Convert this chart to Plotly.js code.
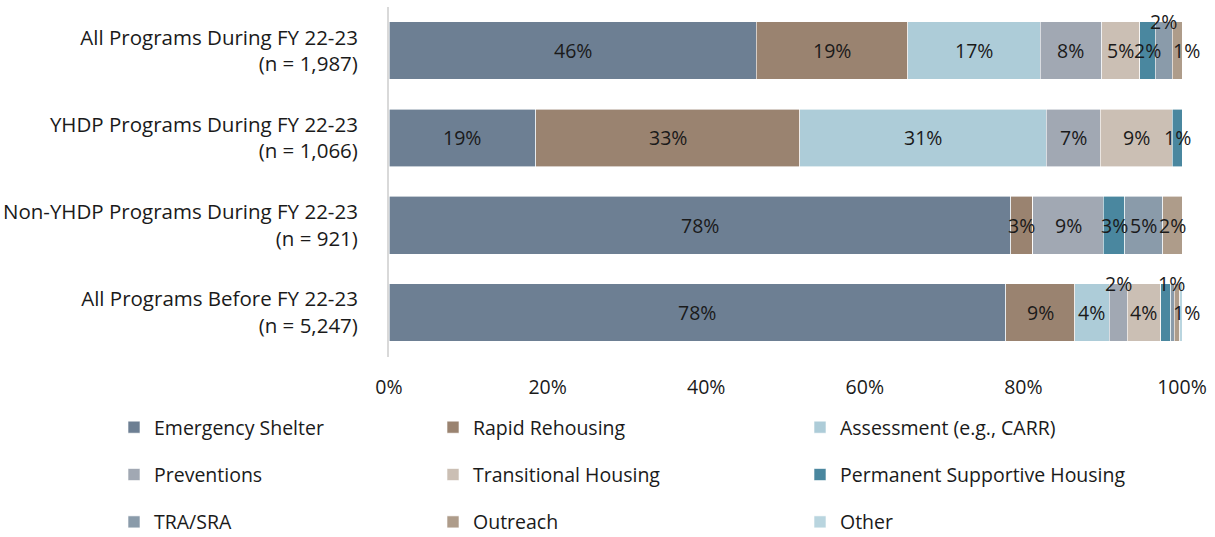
<!DOCTYPE html>
<html>
<head>
<meta charset="utf-8">
<script src="https://cdn.plot.ly/plotly-3.0.1.min.js"></script>
<style>html,body{margin:0;padding:0;background:#fff;}#chart{width:1215px;height:537px;}</style>
</head>
<body>
<div id="chart"></div>
<script>
// ---- data ----
const categories = [
  "All Programs During FY 22-23<br>(n = 1,987)",
  "YHDP Programs During FY 22-23<br>(n = 1,066)",
  "Non-YHDP Programs During FY 22-23<br>(n = 921)",
  "All Programs Before FY 22-23<br>(n = 5,247)"
];
const seriesNames = ["Emergency Shelter","Rapid Rehousing","Assessment (e.g., CARR)","Preventions","Transitional Housing","Permanent Supportive Housing","TRA/SRA","Outreach","Other"];
const emergencyShelter   = [46.3, 18.5, 78.4, 77.8];
const rapidRehousing     = [19.1, 33.3, 2.8, 8.7];
const assessment         = [16.7, 31.1, 0, 4.3];
const preventions        = [7.8, 6.8, 8.9, 2.3];
const transitionalHousing= [4.8, 9.1, 0, 4.2];
const permSupportive     = [1.9, 1.2, 2.7, 1.3];
const traSra             = [2.2, 0, 4.8, 0.4];
const outreach           = [1.2, 0, 2.4, 0.7];
const other              = [0, 0, 0, 0.3];
const seriesValues = [emergencyShelter, rapidRehousing, assessment, preventions, transitionalHousing, permSupportive, traSra, outreach, other];

// ---- styles ----
const colors = ["#6D7F93","#9A8370","#ADCCD8","#A1A8B3","#CBBFB4","#4A879F","#8A9BAA","#AE9C8A","#B9D5DF"];
const FONT = "'Open Sans', 'Noto Sans', sans-serif";
const FS = 19.5;
const YFS = 20.5;
// manual label nudges (pixels) : key = seriesIndex + '-' + categoryIndex
const labelShift = {
  "6-0": {dx: 0, dy: 29},
  "7-0": {dx: 9, dy: 0},
  "3-3": {dx: 0, dy: 29},
  "5-3": {dx: 6, dy: 29},
  "7-3": {dx: 10, dy: 0}
};

const traces = seriesNames.map((name, i) => ({
  type: "bar",
  orientation: "h",
  name: name,
  y: categories,
  x: seriesValues[i].map(v => v / 100),
  marker: {color: colors[i], line: {color: "#ffffff", width: 0.6}},
  legend: ["legend","legend2","legend3"][i % 3],
  legendgroup: "g" + i,
  hoverinfo: "name+x"
}));

const annotations = [];
categories.forEach((cat, c) => {
  let cum = 0;
  seriesValues.forEach((vals, s) => {
    const v = vals[c];
    const r = Math.round(v);
    if (r >= 1) {
      const sh = labelShift[s + "-" + c] || {dx: 0, dy: 0};
      annotations.push({
        x: (cum + v / 2) / 100, y: cat, xref: "x", yref: "y",
        text: r + "%", showarrow: false,
        xshift: sh.dx, yshift: sh.dy,
        font: {family: FONT, size: FS, color: "#1a1a1a"}
      });
    }
    cum += v;
  });
});

const legendBase = {
  orientation: "v", xref: "container", yref: "container",
  yanchor: "top", xanchor: "left", bgcolor: "rgba(0,0,0,0)",
  font: {family: FONT, size: FS, color: "#1a1a1a"},
  tracegroupgap: 19, traceorder: "grouped", itemclick: false
};

const layout = {
  width: 1215, height: 537,
  margin: {l: 389, r: 33, t: 7, b: 180, autoexpand: false},
  barmode: "stack",
  bargap: 0.34,
  paper_bgcolor: "#ffffff", plot_bgcolor: "#ffffff",
  font: {family: FONT, size: FS, color: "#1a1a1a"},
  xaxis: {
    range: [0, 1], tickformat: ".0%", dtick: 0.2, showgrid: false,
    zeroline: false, showline: false, ticks: "", ticklabelstandoff: 16,
    tickangle: 0, automargin: false,
    tickfont: {family: FONT, size: FS, color: "#1a1a1a"}, fixedrange: true
  },
  yaxis: {
    autorange: "reversed", showgrid: false, zeroline: false,
    showline: true, linecolor: "#d9d9d9", linewidth: 2,
    ticks: "", ticklabelstandoff: 25, automargin: false,
    tickfont: {family: FONT, size: YFS, color: "#1a1a1a"}, fixedrange: true
  },
  showlegend: true,
  legend:  Object.assign({}, legendBase, {x: 114/1215, y: 1 - 408/537}),
  legend2: Object.assign({}, legendBase, {x: 433/1215, y: 1 - 408/537}),
  legend3: Object.assign({}, legendBase, {x: 800/1215, y: 1 - 408/537}),
  annotations: annotations
};

Plotly.newPlot("chart", traces, layout, {displayModeBar: false, staticPlot: true});
</script>
</body>
</html>
